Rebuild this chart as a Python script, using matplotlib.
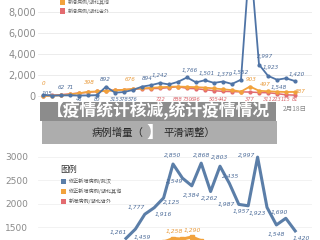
import matplotlib
matplotlib.use('Agg')
import matplotlib.pyplot as plt
from matplotlib.patches import Rectangle

plt.rcParams['font.family'] = ['Noto Sans CJK SC', 'DejaVu Sans']

# ---------------- data: top chart (daily, 1/21 - 2/18) ----------------
top_dates = ['1月21日', '1月22日', '1月23日', '1月24日', '1月25日', '1月26日', '1月27日',
             '1月28日', '1月29日', '1月30日', '1月31日', '2月1日', '2月2日', '2月3日',
             '2月4日', '2月5日', '2月6日', '2月7日', '2月8日', '2月9日', '2月10日',
             '2月11日', '2月12日', '2月13日', '2月14日', '2月15日', '2月16日', '2月17日', '2月18日']
wuhan = [105, 40, 62, 71, 46, 60, 80, 892, 315, 378, 576, 894, 1033, 1242, 1100, 1350, 1766,
         1300, 1501, 1250, 1379, 1150, 1552, 13436, 2997, 1923, 1548, 1690, 1420]
hubei_other = [0, 30, 70, 150, 260, 398, 430, 480, 530, 600, 676, 720, 780, 830, 880, 900, 870,
               840, 800, 720, 640, 560, 420, 903, 497, 450, 410, 380, 387]
outside = [20, 60, 130, 200, 280, 350, 430, 500, 560, 600, 650, 700, 710, 722, 800, 888, 730,
           696, 600, 505, 442, 420, 390, 377, 330, 311, 223, 115, 81]
top_yticks = [0, 2000, 4000, 6000, 8000]
top_yticklabels = ['0', '2,000', '4,000', '6,000', '8,000']

# ---------------- data: bottom chart (smoothed) ----------------
smooth_wuhan = [1261, 1459, 1777, 1916, 2125, 2850, 2549, 2384, 2868, 2262, 2803, 2435,
                1987, 1957, 2997, 1923, 1548, 1690, 1420]
smooth_other = [700, 820, 950, 1080, 1180, 1258, 1245, 1290, 1210, 1150, 1100, 1050, 980,
                900, 1000, 850, 700, 620, 560]
bot_yticks = [1500, 2000, 2500, 3000]
bot_yticklabels = ['1500', '2000', '2500', '3000']

legend_top = ['新增病例/湖北其他', '新增病例/湖北省外']
legend_bot = ['修正新增病例/武汉', '修正新增病例/湖北其他', '新增病例/湖北省外']
title_line1 = '【疫情统计核减,统计疫情情况'
title_line2 = '】'
header_a = '病例增量（'
header_b = '平滑调整）'

# ---------------- styles ----------------
C_BLUE = '#4f74a6'
C_BLUE2 = '#5b7ea8'
C_ORANGE = '#f2a23c'
C_RED = '#e36b6f'
C_LBL_BLUE = '#4d6c99'
C_LBL_ORANGE = '#e99a3a'
C_LBL_RED = '#d9646a'
NUMFONT = ['DejaVu Sans']

W, H = 320, 240
def fx(x): return x / W
def fy(y): return 1 - y / H
def px(v): return v * 0.72  # px -> points

fig = plt.figure(figsize=(3.2, 2.4), dpi=100)
fig.patch.set_facecolor('white')

# ---------------- top chart ----------------
ax1 = fig.add_axes([fx(38), fy(100), 274 / W, 100 / H])
xs = list(range(len(wuhan)))
ax1.set_xlim(-5 / 9, (312 - 43) / 9)
ax1.set_ylim(-381, 9143)
for s in ax1.spines.values():
    s.set_visible(False)
ax1.set_yticks(top_yticks)
ax1.set_yticklabels(top_yticklabels, family=NUMFONT)
ax1.tick_params(axis='y', length=0, pad=1.5, labelsize=7, labelcolor='#8a8a8a')
ax1.grid(axis='y', color='#e9e9e9', lw=0.6)
ax1.set_axisbelow(True)
tick_idx = [28]
ax1.set_xticks(tick_idx)
ax1.set_xticklabels([top_dates[i] for i in tick_idx])
ax1.tick_params(axis='x', length=0, pad=3.5, labelsize=4.8, labelcolor='#8a8a8a')

ax1.plot(xs, outside, color=C_RED, lw=1.1, marker='o', ms=2.0, zorder=3)
ax1.plot(xs, hubei_other, color=C_ORANGE, lw=1.3, marker='o', ms=2.2, zorder=4)
ax1.plot(xs, wuhan, color=C_BLUE, lw=1.3, marker='o', ms=2.0, zorder=5)

def lab(ax, x, y, s, color, dx, dy, size=4.3):
    ax.annotate(s, (x, y), xytext=(px(dx), -px(dy)), textcoords='offset points',
                ha='center', va='center', fontsize=size, style='italic', color=color,
                family=NUMFONT, zorder=6, annotation_clip=False)

def fmt(v):
    return f'{v:,}'

blue_above = {0: (4, -1), 2: (0, -8), 3: (0, -8), 7: (-1, -7), 11: (5, -8), 13: (0, -7),
              16: (3, -7), 18: (2, -7), 20: (2, -7), 22: (0, -7), 24: (6, -8), 25: (3, -8),
              26: (2, 8), 28: (2, -7)}
for i, (dx, dy) in blue_above.items():
    lab(ax1, i, wuhan[i], fmt(wuhan[i]), C_LBL_BLUE, dx, dy, size=4.1)
orange_lab = {0: (1, -12), 5: (1, -9), 10: (-3, -9), 23: (1, -7), 24: (6, -6), 28: (5, 0)}
for i, (dx, dy) in orange_lab.items():
    lab(ax1, i, hubei_other[i], fmt(hubei_other[i]), C_LBL_ORANGE, dx, dy, size=4.1)
row_v = -330
for i in [4, 6, 8, 9, 10]:
    ax1.text(i, row_v, fmt(wuhan[i]), ha='center', va='center', fontsize=3.7,
             style='italic', color=C_LBL_BLUE, family=NUMFONT, zorder=6)
for i in [13, 15, 16, 17, 19, 20, 23, 25, 26, 27, 28]:
    ax1.text(i, row_v, fmt(outside[i]), ha='center', va='center', fontsize=3.7,
             style='italic', color=C_LBL_RED, family=NUMFONT, zorder=6)

# top legend (partially visible)
for k, (name, col) in enumerate(zip(legend_top, [C_ORANGE, C_RED])):
    yc = 2 + 9 * k
    fig.add_artist(Rectangle((fx(60), fy(yc + 2.5)), 5 / W, 5 / H, transform=fig.transFigure,
                             facecolor=col, edgecolor='none', zorder=8))
    fig.text(fx(68), fy(yc), name, fontsize=3.6, color='#666666', ha='left', va='center', zorder=8)

# ---------------- bottom chart ----------------
ax2 = fig.add_axes([fx(38), 0, 274 / W, 95 / H])
xb = list(range(len(smooth_wuhan)))
ax2.set_xlim(-(126 - 38) / 9.4, (312 - 126) / 9.4)
ax2.set_ylim(1226, 3256)
for s in ax2.spines.values():
    s.set_visible(False)
ax2.set_xticks([])
ax2.set_yticks(bot_yticks)
ax2.set_yticklabels(bot_yticklabels, family=NUMFONT)
ax2.tick_params(axis='y', length=0, pad=7, labelsize=6.5, labelcolor='#8a8a8a')
ax2.grid(axis='y', color='#f0f0f0', lw=0.6)
ax2.set_axisbelow(True)
ax2.plot(xb, smooth_other, color=C_ORANGE, lw=2.2, marker='s', ms=2.6, zorder=3)
ax2.plot(xb, smooth_wuhan, color=C_BLUE2, lw=2.2, solid_joinstyle='round', zorder=4)

bot_off = [(-8, -6), (7, 8), (-8, -7), (9, 7), (8, 5), (0, -8), (-8, 3), (0, 10), (0, -8),
           (-1, 7), (0, -9), (1, -7), (-12, 0), (-7, 6), (-11, -2), (-10, 6), (0, 10),
           (-6, -6), (6, 8)]
for j, (dx, dy) in enumerate(bot_off):
    lab(ax2, j, smooth_wuhan[j], fmt(smooth_wuhan[j]), C_LBL_BLUE, dx, dy, size=4.3)
for j in [5, 7]:
    lab(ax2, j, smooth_other[j], fmt(smooth_other[j]), C_LBL_ORANGE, 1, -7, size=4.3)

# bottom legend
fig.text(fx(60), fy(169), '图例', fontsize=6, color='#333333', ha='left', va='center', zorder=8)
for k, (name, col) in enumerate(zip(legend_bot, [C_BLUE2, C_ORANGE, C_RED])):
    yc = 181 + 10 * k
    fig.add_artist(Rectangle((fx(61), fy(yc + 2.5)), 5 / W, 5 / H, transform=fig.transFigure,
                             facecolor=col, edgecolor='none', zorder=8))
    fig.text(fx(69), fy(yc), name, fontsize=3.7, color='#555555', ha='left', va='center', zorder=8)

# ---------------- header bar & title overlay ----------------
fig.add_artist(Rectangle((fx(42), fy(144)), 235 / W, 23 / H, transform=fig.transFigure,
                         facecolor='#adadad', edgecolor='none', zorder=9))
fig.text(fx(92), fy(133), header_a, fontsize=7.5, color='#262626', ha='right' if False else 'left',
         va='center', zorder=10)
fig.text(fx(163), fy(133), header_b, fontsize=7.5, color='#262626', ha='left', va='center', zorder=10)
fig.add_artist(Rectangle((fx(40), fy(121)), 236 / W, 19 / H, transform=fig.transFigure,
                         facecolor='black', alpha=0.45, edgecolor='none', zorder=11))
fig.text(fx(158), fy(111), title_line1, fontsize=12.1, fontweight='bold', color='white',
         ha='center', va='center', zorder=12)
fig.text(fx(155), fy(133), title_line2, fontsize=12.1, fontweight='bold', color='white',
         ha='center', va='center', zorder=12)

fig.savefig('out.png', dpi=100)
